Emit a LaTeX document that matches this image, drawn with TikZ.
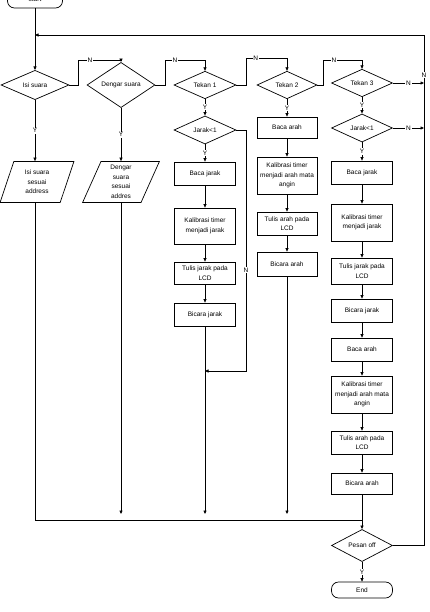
\documentclass[tikz,border=0pt]{standalone}
\usepackage{fontspec}
\setmainfont{Liberation Sans}
\usetikzlibrary{shapes.geometric,arrows.meta}
\begin{document}
\begin{tikzpicture}[x=1pt,y=-1pt, line width=0.7pt,
 every node/.style={font=\fontsize{6.5}{9.5}\selectfont, align=center},
 box/.style={draw, rectangle, minimum width=61pt, inner sep=1pt},
 dec/.style={draw, diamond, inner sep=0pt, minimum width=62pt, minimum height=26pt},
 io/.style={draw, trapezium, trapezium left angle=73, trapezium right angle=107, trapezium stretches=true, minimum width=74pt, minimum height=41pt, inner sep=1pt},
 term/.style={draw, rectangle, rounded corners=7pt, minimum width=61pt, minimum height=16pt},
 arr/.style={-{Triangle[length=3.5pt,width=3pt]}},
 lbl/.style={fill=white, inner sep=0.8pt}]
\useasboundingbox (0,0) rectangle (430,612);
\clip (0,0) rectangle (430,612);
\fill[white] (0,0) rectangle (430,612);

% terminals
\node[term, minimum width=55pt, minimum height=18pt] (start) at (35,-1) {start};
\node[term] (end) at (362,590) {End};

% decisions
\node[dec, minimum width=68pt] (d1) at (35,85) {Isi suara};
\node[dec, minimum width=68pt] (d2) at (121,85) {Dengar suara};
\node[dec] (d3) at (205,85) {Tekan 1};
\node[dec, minimum width=60pt] (d4) at (287,85) {Tekan 2};
\node[dec, minimum width=61pt] (d5) at (362,83) {Tekan 3};
\node[dec] (j1) at (205,130) {Jarak<1};
\node[dec, minimum width=61pt, minimum height=27pt] (j2) at (362,128) {Jarak<1};
\node[dec, minimum width=61pt, minimum height=23pt] (po) at (362,545.5) {Pesan off};

% input/output
\node[io] (p1) at (37,182) {Isi suara\\sesuai\\address};
\node[io, minimum width=77pt] (p2) at (121,182) {Dengar\\suara\\sesuai\\addres};

% column Tekan 1
\node[box, minimum height=23pt] (a1) at (205,173.5) {Baca jarak};
\node[box, minimum height=36pt] (a2) at (205,226) {Kalibrasi timer\\menjadi jarak};
\node[box, minimum height=22pt] (a3) at (205,273) {Tulis jarak pada\\LCD};
\node[box, minimum height=23pt] (a4) at (205,314.5) {Bicara jarak};

% column Tekan 2
\node[box, minimum width=60pt, minimum height=21pt] (b1) at (287,127.5) {Baca arah};
\node[box, minimum width=60pt, minimum height=37pt] (b2) at (287,175.5) {Kalibrasi timer\\menjadi arah mata\\angin};
\node[box, minimum width=60pt, minimum height=23pt] (b3) at (287,223.5) {Tulis arah pada\\LCD};
\node[box, minimum width=60pt, minimum height=24pt] (b4) at (287,264) {Bicara arah};

% column Tekan 3
\node[box, minimum height=23pt] (c1) at (362,172.5) {Baca jarak};
\node[box, minimum height=37pt] (c2) at (362,222.5) {Kalibrasi timer\\menjadi jarak};
\node[box, minimum height=26pt] (c3) at (362,271) {Tulis jarak pada\\LCD};
\node[box, minimum height=23pt] (c4) at (362,310.5) {Bicara jarak};
\node[box, minimum height=23pt] (c5) at (362,349.5) {Baca arah};
\node[box, minimum height=37pt] (c6) at (362,394.5) {Kalibrasi timer\\menjadi arah mata\\angin};
\node[box, minimum height=23pt] (c7) at (362,442.5) {Tulis arah pada\\LCD};
\node[box, minimum height=21pt] (c8) at (362,483.5) {Bicara arah};

% coordinates
\coordinate (loopL) at (35,35);
\coordinate (loopR) at (424,35);
\coordinate (m1) at (35,520);
\coordinate (m2) at (362,520);

% start and loop back
\draw[arr] (start.south) -- (d1.north);
\draw[arr] (po.east) -- (po.east -| loopR) -- (loopR) -- (loopL);
\node[lbl] at (424,75) {N};

% N branches between decisions
\draw[arr] (d1.east) -- (78,85) -- (78,60) -- (121,60) node[pos=0.28, lbl] {N} -- (d2.north);
\draw[arr] (d2.east) -- (165,85) -- (165,60) -- (205,60) node[pos=0.25, lbl] {N} -- (d3.north);
\draw[arr] (d3.east) -- (246,85) -- (246,58) -- (287,58) node[pos=0.24, lbl] {N} -- (d4.north);
\draw[arr] (d4.east) -- (323,85) -- (323,60) -- (362,60) node[pos=0.28, lbl] {N} -- (d5.north);
\draw[arr] (d5.east) -- (d5.east -| loopR) node[pos=0.5, lbl] {N};
\draw[arr] (j2.east) -- (j2.east -| loopR) node[pos=0.5, lbl] {N};

% Y branches
\draw[arr] (d1.south) -- (d1.south |- p1.north) node[pos=0.5, lbl] {Y};
\draw[arr] (d2.south) -- (d2.south |- p2.north) node[pos=0.5, lbl] {Y};
\draw[arr] (d3.south) -- (j1.north) node[pos=0.5, lbl] {Y};
\draw[arr] (j1.south) -- (a1.north) node[pos=0.5, lbl] {Y};
\draw[arr] (d4.south) -- (b1.north) node[pos=0.5, lbl] {Y};
\draw[arr] (d5.south) -- (j2.north) node[pos=0.5, lbl] {Y};
\draw[arr] (j2.south) -- (c1.north) node[pos=0.5, lbl] {Y};
\draw[arr] (po.south) -- (end.north) node[pos=0.5, lbl] {Y};

% Jarak<1 (Tekan 1) N branch
\draw[arr] (j1.east) -- (246,130) -- (246,371) node[pos=0.58, lbl] {N} -- (205,371);

% column chains
\draw[arr] (a1) -- (a2);
\draw[arr] (a2) -- (a3);
\draw[arr] (a3) -- (a4);
\draw[arr] (a4.south) -- (205,514);
\draw[arr] (b1) -- (b2);
\draw[arr] (b2) -- (b3);
\draw[arr] (b3) -- (b4);
\draw[arr] (b4.south) -- (287,514);
\draw[arr] (c1) -- (c2);
\draw[arr] (c2) -- (c3);
\draw[arr] (c3) -- (c4);
\draw[arr] (c4) -- (c5);
\draw[arr] (c5) -- (c6);
\draw[arr] (c6) -- (c7);
\draw[arr] (c7) -- (c8);
\draw[arr] (c8) -- (po.north);
\draw[arr] (p2.south -| d2.south) -- (121,514);
\draw (p1.south -| d1.south) -- (m1) -- (m2);
\end{tikzpicture}
\end{document}
